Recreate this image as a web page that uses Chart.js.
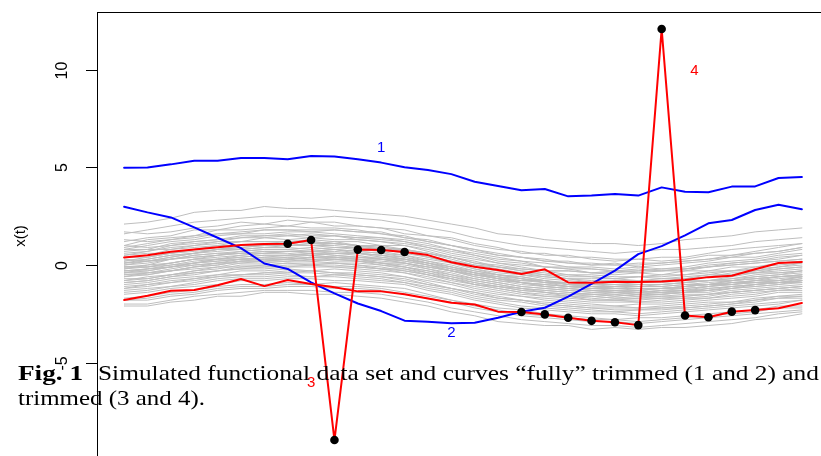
<!DOCTYPE html>
<html>
<head>
<meta charset="utf-8">
<script src="https://cdn.jsdelivr.net/npm/chart.js@4.4.1/dist/chart.umd.min.js"></script>
<style>
  html, body { margin: 0; padding: 0; background: #fff; overflow: hidden; }
  #wrap { position: relative; width: 821px; height: 456px; overflow: hidden; }
  canvas { position: absolute; left: 0; top: 0; }
</style>
</head>
<body>
<div id="wrap"><canvas id="chart" width="860" height="480"></canvas></div>
<script>
// time grid
const tValues = [0,1,2,3,4,5,6,7,8,9,10,11,12,13,14,15,16,17,18,19,20,21,22,23,24,25,26,27,28,29];

// outlying curves ("fully" trimmed, blue)
const curve1 = [4.99,5.0,5.16,5.35,5.35,5.49,5.49,5.42,5.59,5.56,5.42,5.25,5.01,4.87,4.66,4.27,4.05,3.83,3.90,3.52,3.56,3.64,3.56,3.98,3.76,3.73,4.02,4.03,4.46,4.51];
const curve2 = [2.99,2.70,2.44,1.93,1.40,0.87,0.08,-0.20,-0.89,-1.45,-1.97,-2.36,-2.85,-2.91,-2.99,-2.96,-2.70,-2.39,-2.19,-1.62,-0.97,-0.29,0.56,0.97,1.52,2.14,2.31,2.82,3.09,2.86];
// partially trimmed curves (red)
const curve3 = [0.39,0.50,0.68,0.80,0.91,1.03,1.08,1.09,1.28,-8.97,0.79,0.77,0.67,0.51,0.14,-0.09,-0.26,-0.46,-0.22,-0.89,-0.91,-0.86,-0.87,-0.85,-0.77,-0.62,-0.55,-0.22,0.10,0.16];
const curve4 = [-1.79,-1.57,-1.32,-1.28,-1.04,-0.72,-1.08,-0.77,-0.97,-1.14,-1.35,-1.35,-1.50,-1.71,-1.93,-2.02,-2.39,-2.41,-2.53,-2.70,-2.86,-2.93,-3.08,12.10,-2.59,-2.68,-2.39,-2.31,-2.22,-1.95];
// trimmed time points
const trimmed3 = [7,8,9,10,11,12];
const trimmed4 = [17,18,19,20,21,22,23,24,25,26,27];

// the bulk of the simulated sample (gray)
const g01 = [2.1,2.2,2.4,2.7,2.8,2.8,3.0,2.9,2.9,2.8,2.7,2.6,2.5,2.3,2.1,1.9,1.6,1.5,1.3,1.2,1.1,1.1,1.0,1.1,1.3,1.4,1.5,1.7,1.8,1.9];
const g02 = [1.6,1.8,2.0,2.2,2.3,2.4,2.5,2.5,2.4,2.5,2.4,2.3,2.1,1.9,1.7,1.4,1.2,1.0,0.9,0.8,0.7,0.6,0.7,0.8,0.8,0.9,1.0,1.2,1.3,1.4];
const g03 = [1.7,1.6,1.7,1.9,2.0,2.2,2.1,2.3,2.2,2.2,2.0,1.9,1.8,1.5,1.4,1.1,0.9,0.6,0.6,0.4,0.4,0.3,0.3,0.4,0.4,0.6,0.8,0.9,1.0,1.1];
const g04 = [1.2,1.4,1.5,1.8,1.8,2.0,2.1,2.0,2.2,2.0,2.0,1.9,1.6,1.5,1.3,1.0,0.8,0.7,0.5,0.5,0.3,0.2,0.3,0.2,0.3,0.5,0.5,0.7,0.9,1.1];
const g05 = [1.0,1.3,1.4,1.5,1.8,1.8,1.9,2.0,1.9,1.9,1.8,1.6,1.5,1.2,1.0,0.8,0.6,0.4,0.3,0.1,0.1,0.0,0.1,0.1,0.2,0.3,0.5,0.6,0.7,0.9];
const g06 = [1.3,1.2,1.3,1.4,1.6,1.6,1.8,1.8,1.7,1.8,1.7,1.7,1.4,1.3,1.0,0.8,0.5,0.4,0.2,0.2,0.0,0.1,-0.1,0.0,0.1,0.2,0.4,0.4,0.6,0.8];
const g07 = [0.8,1.0,1.2,1.3,1.5,1.6,1.6,1.7,1.7,1.6,1.5,1.4,1.3,1.1,0.8,0.6,0.4,0.2,0.1,-0.1,-0.1,-0.2,-0.1,-0.2,-0.1,0.1,0.2,0.3,0.5,0.6];
const g08 = [1.0,0.9,1.0,1.2,1.3,1.5,1.5,1.5,1.6,1.5,1.4,1.4,1.2,1.0,0.8,0.5,0.3,0.2,-0.1,-0.1,-0.2,-0.3,-0.3,-0.2,-0.2,0.0,0.1,0.2,0.4,0.5];
const g09 = [0.5,0.7,1.0,1.1,1.2,1.4,1.4,1.5,1.4,1.5,1.3,1.2,1.1,0.9,0.6,0.4,0.1,0.0,-0.1,-0.2,-0.4,-0.3,-0.4,-0.3,-0.3,-0.1,0.0,0.1,0.2,0.3];
const g10 = [0.7,0.8,0.8,1.0,1.2,1.2,1.4,1.3,1.4,1.3,1.3,1.2,1.0,0.8,0.5,0.3,0.1,-0.1,-0.3,-0.3,-0.4,-0.5,-0.4,-0.5,-0.3,-0.3,-0.1,-0.1,0.1,0.2];
const g11 = [0.4,0.5,0.8,0.9,1.0,1.2,1.2,1.2,1.3,1.2,1.2,1.0,1.0,0.7,0.4,0.2,-0.1,-0.2,-0.3,-0.5,-0.5,-0.6,-0.6,-0.5,-0.5,-0.3,-0.3,-0.1,0.0,0.1];
const g12 = [0.5,0.6,0.6,0.8,1.0,1.0,1.1,1.2,1.1,1.2,1.0,1.0,0.8,0.6,0.4,0.1,-0.1,-0.3,-0.5,-0.5,-0.6,-0.7,-0.6,-0.7,-0.6,-0.5,-0.3,-0.3,-0.1,0.0];
const g13 = [0.2,0.4,0.6,0.7,0.8,1.0,1.0,1.1,1.0,1.1,1.0,0.8,0.8,0.5,0.2,0.0,-0.2,-0.4,-0.5,-0.7,-0.7,-0.7,-0.8,-0.7,-0.7,-0.5,-0.5,-0.3,-0.2,-0.1];
const g14 = [0.3,0.2,0.4,0.6,0.8,0.8,0.9,1.0,1.0,0.9,0.9,0.8,0.6,0.4,0.2,-0.1,-0.3,-0.5,-0.6,-0.7,-0.9,-0.8,-0.9,-0.8,-0.8,-0.6,-0.5,-0.4,-0.3,-0.2];
const g15 = [0.0,0.2,0.4,0.6,0.7,0.8,0.9,0.9,0.8,0.9,0.8,0.7,0.5,0.3,0.1,-0.2,-0.4,-0.5,-0.7,-0.8,-0.9,-1.0,-0.9,-0.9,-0.8,-0.8,-0.6,-0.4,-0.4,-0.3];
const g16 = [0.1,0.2,0.3,0.4,0.5,0.7,0.8,0.8,0.7,0.8,0.7,0.6,0.4,0.2,-0.1,-0.3,-0.5,-0.6,-0.8,-1.0,-1.0,-1.1,-1.0,-1.0,-0.9,-0.8,-0.8,-0.6,-0.5,-0.3];
const g17 = [-0.2,0.0,0.1,0.3,0.5,0.6,0.6,0.7,0.7,0.6,0.6,0.5,0.3,0.1,-0.1,-0.4,-0.6,-0.8,-0.8,-1.0,-1.1,-1.2,-1.1,-1.1,-1.0,-1.0,-0.8,-0.7,-0.6,-0.5];
const g18 = [-0.1,-0.1,0.1,0.3,0.3,0.5,0.6,0.6,0.5,0.6,0.5,0.3,0.3,0.0,-0.3,-0.5,-0.6,-0.9,-1.0,-1.1,-1.2,-1.2,-1.3,-1.2,-1.1,-1.0,-1.0,-0.8,-0.6,-0.6];
const g19 = [-0.4,-0.2,-0.1,0.1,0.3,0.3,0.4,0.5,0.5,0.4,0.4,0.3,0.1,-0.1,-0.3,-0.6,-0.8,-0.9,-1.1,-1.2,-1.3,-1.3,-1.4,-1.3,-1.2,-1.1,-1.0,-0.9,-0.8,-0.6];
const g20 = [-0.3,-0.3,-0.1,0.0,0.1,0.3,0.3,0.3,0.4,0.4,0.3,0.1,0.1,-0.2,-0.5,-0.7,-0.9,-1.1,-1.2,-1.3,-1.4,-1.5,-1.4,-1.4,-1.4,-1.2,-1.1,-1.0,-0.9,-0.9];
const g21 = [-0.6,-0.4,-0.3,-0.1,0.1,0.1,0.2,0.3,0.2,0.3,0.2,0.1,-0.1,-0.3,-0.5,-0.8,-1.0,-1.2,-1.3,-1.4,-1.5,-1.5,-1.6,-1.5,-1.4,-1.3,-1.2,-1.1,-1.0,-0.8];
const g22 = [-0.5,-0.5,-0.3,-0.2,-0.1,0.1,0.1,0.2,0.2,0.1,0.1,0.0,-0.2,-0.4,-0.7,-0.9,-1.1,-1.2,-1.4,-1.5,-1.6,-1.7,-1.6,-1.6,-1.5,-1.5,-1.3,-1.2,-1.1,-1.0];
const g23 = [-0.8,-0.6,-0.5,-0.3,-0.1,-0.1,0.0,0.1,0.1,0.1,0.0,-0.2,-0.2,-0.5,-0.7,-1.0,-1.2,-1.4,-1.5,-1.6,-1.7,-1.8,-1.7,-1.7,-1.6,-1.5,-1.4,-1.3,-1.2,-1.1];
const g24 = [-0.7,-0.7,-0.5,-0.4,-0.3,-0.1,-0.1,-0.1,0.0,-0.1,-0.1,-0.2,-0.4,-0.6,-0.9,-1.1,-1.3,-1.5,-1.6,-1.7,-1.8,-1.8,-1.9,-1.8,-1.7,-1.7,-1.5,-1.4,-1.3,-1.2];
const g25 = [-1.0,-0.9,-0.7,-0.6,-0.5,-0.3,-0.3,-0.2,-0.3,-0.2,-0.3,-0.4,-0.6,-0.8,-1.0,-1.3,-1.5,-1.6,-1.8,-1.9,-2.0,-2.1,-2.0,-2.0,-1.9,-1.8,-1.7,-1.6,-1.4,-1.4];
const g26 = [-1.2,-1.0,-0.8,-0.7,-0.5,-0.5,-0.4,-0.3,-0.3,-0.4,-0.4,-0.5,-0.6,-0.9,-1.2,-1.4,-1.6,-1.8,-1.9,-2.0,-2.1,-2.1,-2.2,-2.1,-2.0,-1.9,-1.9,-1.7,-1.6,-1.5];
const g27 = [-1.3,-1.2,-1.1,-0.9,-0.7,-0.6,-0.6,-0.5,-0.6,-0.5,-0.6,-0.7,-0.9,-1.1,-1.3,-1.6,-1.8,-1.9,-2.1,-2.2,-2.3,-2.4,-2.3,-2.3,-2.2,-2.1,-2.0,-1.9,-1.7,-1.7];
const g28 = [-1.5,-1.4,-1.2,-1.1,-1.0,-0.8,-0.8,-0.7,-0.7,-0.8,-0.8,-0.9,-1.0,-1.3,-1.5,-1.8,-2.0,-2.2,-2.3,-2.4,-2.5,-2.5,-2.6,-2.5,-2.4,-2.3,-2.2,-2.1,-2.0,-1.8];
const g29 = [-1.7,-1.6,-1.4,-1.3,-1.1,-1.0,-1.0,-0.9,-1.0,-0.9,-1.0,-1.1,-1.2,-1.5,-1.8,-2.0,-2.2,-2.3,-2.5,-2.6,-2.7,-2.8,-2.7,-2.7,-2.6,-2.5,-2.4,-2.3,-2.1,-2.1];
const g30 = [-1.8,-1.8,-1.6,-1.5,-1.3,-1.2,-1.2,-1.1,-1.1,-1.2,-1.2,-1.3,-1.5,-1.7,-1.9,-2.2,-2.4,-2.6,-2.7,-2.8,-2.9,-2.9,-3.0,-2.9,-2.8,-2.7,-2.6,-2.5,-2.4,-2.3];
const g31 = [-2.0,-2.0,-1.8,-1.6,-1.5,-1.4,-1.3,-1.3,-1.3,-1.4,-1.4,-1.5,-1.7,-1.9,-2.2,-2.4,-2.6,-2.8,-2.9,-3.0,-3.1,-3.1,-3.2,-3.1,-3.0,-2.9,-2.8,-2.7,-2.5,-2.4];
const g32 = [-2.1,-2.1,-1.9,-1.8,-1.6,-1.6,-1.4,-1.4,-1.5,-1.5,-1.6,-1.7,-1.9,-2.1,-2.4,-2.6,-2.9,-3.0,-3.1,-3.1,-3.3,-3.2,-3.3,-3.2,-3.2,-3.1,-3.0,-2.8,-2.7,-2.5];
const g33 = [0.2,0.3,0.5,0.6,0.8,0.9,1.0,1.0,1.1,1.1,1.0,0.9,0.8,0.6,0.4,0.1,0.0,-0.2,-0.3,-0.3,-0.4,-0.4,-0.3,-0.3,-0.2,-0.1,0.0,0.1,0.2,0.3];
const g34 = [0.6,0.7,0.9,1.0,1.1,1.2,1.2,1.2,1.2,1.1,1.0,0.8,0.7,0.4,0.1,-0.2,-0.5,-0.7,-0.8,-1.0,-1.1,-1.2,-1.2,-1.2,-1.1,-1.0,-0.9,-0.9,-0.8,-0.7];
const g35 = [-0.2,-0.1,0.0,0.2,0.3,0.4,0.5,0.5,0.6,0.5,0.4,0.4,0.2,0.0,-0.2,-0.4,-0.6,-0.7,-0.9,-0.9,-1.0,-1.0,-1.1,-1.0,-0.9,-0.8,-0.7,-0.5,-0.4,-0.3];
const g36 = [0.1,0.2,0.3,0.5,0.6,0.6,0.7,0.7,0.7,0.7,0.6,0.5,0.3,0.1,-0.2,-0.5,-0.7,-0.9,-1.1,-1.2,-1.3,-1.4,-1.4,-1.3,-1.3,-1.2,-1.1,-1.0,-0.9,-0.8];
const g37 = [-0.6,-0.5,-0.3,-0.1,0.0,0.2,0.2,0.3,0.4,0.4,0.3,0.2,0.1,-0.1,-0.3,-0.5,-0.7,-0.9,-1.0,-1.1,-1.2,-1.2,-1.2,-1.2,-1.1,-1.0,-0.8,-0.7,-0.6,-0.5];
const g38 = [-0.3,-0.2,-0.1,0.1,0.2,0.3,0.3,0.4,0.3,0.3,0.2,0.1,-0.1,-0.4,-0.6,-0.9,-1.1,-1.3,-1.4,-1.6,-1.6,-1.7,-1.7,-1.6,-1.6,-1.5,-1.4,-1.3,-1.2,-1.1];
const g39 = [-0.9,-0.8,-0.6,-0.4,-0.3,-0.2,-0.1,0.0,0.0,0.0,-0.1,-0.2,-0.3,-0.5,-0.7,-1.0,-1.1,-1.3,-1.4,-1.5,-1.5,-1.6,-1.5,-1.5,-1.4,-1.3,-1.2,-1.0,-0.9,-0.8];
const g40 = [-1.1,-1.0,-0.9,-0.8,-0.6,-0.5,-0.5,-0.4,-0.4,-0.5,-0.5,-0.6,-0.8,-1.0,-1.2,-1.4,-1.7,-1.8,-2.0,-2.1,-2.2,-2.3,-2.3,-2.2,-2.2,-2.1,-2.0,-1.8,-1.7,-1.6];
const g41 = [0.9,1.1,1.3,1.5,1.6,1.7,1.8,1.8,1.8,1.8,1.7,1.6,1.4,1.2,1.0,0.7,0.5,0.4,0.2,0.1,0.0,0.0,0.0,0.1,0.2,0.3,0.4,0.6,0.7,0.9];
const g42 = [0.8,0.8,1.1,1.2,1.3,1.4,1.5,1.6,1.5,1.5,1.4,1.3,1.2,0.9,0.7,0.5,0.2,0.1,-0.1,-0.2,-0.2,-0.3,-0.2,-0.3,-0.2,-0.1,0.1,0.2,0.3,0.5];
const g43 = [0.4,0.4,0.6,0.8,0.9,1.0,1.1,1.1,1.2,1.1,1.0,0.9,0.8,0.6,0.3,0.0,-0.1,-0.3,-0.4,-0.6,-0.6,-0.7,-0.6,-0.6,-0.5,-0.4,-0.3,-0.2,-0.1,0.1];
const g44 = [0.1,0.3,0.5,0.6,0.8,0.9,1.0,1.0,1.0,1.0,0.9,0.8,0.7,0.4,0.2,-0.1,-0.3,-0.4,-0.6,-0.7,-0.8,-0.8,-0.8,-0.8,-0.7,-0.6,-0.4,-0.4,-0.2,-0.1];
const g45 = [0.0,0.1,0.3,0.5,0.6,0.7,0.8,0.8,0.9,0.8,0.7,0.6,0.5,0.2,0.0,-0.3,-0.5,-0.6,-0.8,-0.9,-1.0,-1.0,-1.0,-1.0,-0.9,-0.8,-0.7,-0.6,-0.5,-0.4];
const g46 = [-0.1,0.0,0.3,0.4,0.5,0.6,0.7,0.7,0.7,0.8,0.6,0.5,0.4,0.1,-0.1,-0.4,-0.5,-0.7,-0.9,-1.0,-1.1,-1.1,-1.1,-1.1,-1.0,-0.9,-0.8,-0.7,-0.6,-0.5];
const g47 = [-0.1,-0.1,0.1,0.3,0.4,0.5,0.6,0.7,0.6,0.6,0.6,0.4,0.3,0.1,-0.2,-0.4,-0.7,-0.8,-0.9,-1.1,-1.1,-1.2,-1.2,-1.2,-1.1,-1.0,-0.9,-0.8,-0.7,-0.6];
const g48 = [-0.3,-0.2,0.0,0.1,0.3,0.4,0.5,0.5,0.6,0.5,0.4,0.3,0.2,0.0,-0.3,-0.5,-0.7,-0.9,-1.0,-1.1,-1.2,-1.3,-1.3,-1.2,-1.2,-1.1,-0.9,-0.8,-0.8,-0.6];
const g49 = [-0.4,-0.3,-0.1,0.1,0.2,0.3,0.4,0.4,0.5,0.4,0.3,0.3,0.1,-0.1,-0.3,-0.6,-0.8,-1.0,-1.1,-1.2,-1.3,-1.4,-1.3,-1.4,-1.3,-1.1,-1.0,-0.9,-0.9,-0.7];
const g50 = [-0.4,-0.4,-0.2,0.0,0.1,0.2,0.3,0.3,0.4,0.3,0.3,0.1,0.0,-0.2,-0.4,-0.7,-0.9,-1.1,-1.2,-1.3,-1.4,-1.4,-1.5,-1.4,-1.3,-1.3,-1.1,-1.0,-0.9,-0.8];
const g51 = [-0.5,-0.4,-0.3,-0.1,0.0,0.2,0.2,0.2,0.3,0.2,0.2,0.0,-0.1,-0.3,-0.6,-0.8,-1.0,-1.2,-1.3,-1.4,-1.5,-1.6,-1.5,-1.5,-1.4,-1.4,-1.2,-1.1,-1.0,-0.9];
const g52 = [-0.8,-0.7,-0.5,-0.3,-0.2,0.0,0.0,0.1,0.0,0.1,0.0,-0.1,-0.3,-0.5,-0.8,-1.0,-1.2,-1.4,-1.6,-1.6,-1.8,-1.8,-1.8,-1.7,-1.7,-1.6,-1.4,-1.3,-1.2,-1.1];
const g53 = [-0.9,-0.8,-0.6,-0.5,-0.3,-0.2,-0.2,-0.1,-0.1,-0.1,-0.2,-0.3,-0.4,-0.7,-0.9,-1.2,-1.4,-1.6,-1.7,-1.8,-1.9,-1.9,-1.9,-1.9,-1.8,-1.7,-1.6,-1.5,-1.3,-1.3];
const g54 = [-1.2,-1.1,-0.9,-0.7,-0.6,-0.5,-0.4,-0.4,-0.3,-0.4,-0.5,-0.6,-0.7,-1.0,-1.2,-1.5,-1.7,-1.8,-2.0,-2.1,-2.2,-2.2,-2.2,-2.2,-2.1,-2.0,-1.9,-1.8,-1.6,-1.6];
const g55 = [-1.4,-1.3,-1.1,-1.0,-0.8,-0.7,-0.7,-0.6,-0.6,-0.6,-0.7,-0.8,-0.9,-1.2,-1.4,-1.7,-1.9,-2.1,-2.2,-2.3,-2.4,-2.4,-2.5,-2.4,-2.3,-2.2,-2.1,-2.0,-1.9,-1.8];
const g56 = [-1.8,-1.7,-1.5,-1.4,-1.2,-1.1,-1.1,-1.0,-1.0,-1.1,-1.1,-1.2,-1.4,-1.6,-1.8,-2.1,-2.3,-2.5,-2.6,-2.7,-2.8,-2.8,-2.9,-2.8,-2.7,-2.6,-2.5,-2.4,-2.2,-2.2];
const grayCurves = [g01,g02,g03,g04,g05,g06,g07,g08,g09,g10,g11,g12,g13,g14,g15,g16,g17,g18,g19,g20,
                    g21,g22,g23,g24,g25,g26,g27,g28,g29,g30,g31,g32,g33,g34,g35,g36,g37,g38,g39,g40,
                    g41,g42,g43,g44,g45,g46,g47,g48,g49,g50,g51,g52,g53,g54,g55,g56];

const yTicks = [-5, 0, 5, 10];
const yLabel = 'x(t)';
// curve numbers written next to the curves (data coordinates)
const curveLabels = ['1', '2', '3', '4'];
const curveLabelT = [11, 14, 8, 24.4];
const curveLabelY = [6.0, -3.5, -6.05, 9.95];
const curveLabelColor = ['#0000FF', '#0000FF', '#FF0000', '#FF0000'];

const captionBold = 'Fig. 1';
const captionLine1 = 'Simulated functional data set and curves \u201cfully\u201d trimmed (1 and 2) and';
const captionLine2 = 'trimmed (3 and 4).';

const toPoints = ys => tValues.map((t, i) => ({ x: t, y: ys[i] }));

const GRAY = '#BEBEBE', BLUE = '#0000FF', RED = '#FF0000';

const datasets = [];
// trimmed points (black dots) on top
const dots = trimmed3.map(i => ({ x: tValues[i], y: curve3[i] }))
  .concat(trimmed4.map(i => ({ x: tValues[i], y: curve4[i] })));
datasets.push({ data: dots, showLine: false, pointRadius: 4.3, pointBackgroundColor: '#000', pointBorderColor: '#000', pointBorderWidth: 0, order: 0 });
[curve3, curve4].forEach(c => datasets.push({ data: toPoints(c), borderColor: RED, borderWidth: 2, pointRadius: 0, order: 1 }));
[curve1, curve2].forEach(c => datasets.push({ data: toPoints(c), borderColor: BLUE, borderWidth: 2, pointRadius: 0, order: 2 }));
grayCurves.forEach(c => datasets.push({ data: toPoints(c), borderColor: GRAY, borderWidth: 1, pointRadius: 0, order: 3 }));

// draw a string stretched horizontally so it spans x0..x1
function fitText(ctx, text, x0, x1, baseline) {
  const w = ctx.measureText(text).width;
  ctx.save();
  ctx.translate(x0, baseline);
  ctx.scale((x1 - x0) / w, 1);
  ctx.fillText(text, 0, 0);
  ctx.restore();
}

const rPlot = {
  id: 'rPlot',
  afterDatasetsDraw(chart) {
    const { ctx, scales: { x, y } } = chart;
    ctx.save();
    ctx.font = '15px "Liberation Sans", Arial, sans-serif';
    ctx.textAlign = 'center';
    ctx.textBaseline = 'middle';
    curveLabels.forEach((txt, i) => {
      ctx.fillStyle = curveLabelColor[i];
      ctx.fillText(txt, x.getPixelForValue(curveLabelT[i]), y.getPixelForValue(curveLabelY[i]));
    });
    ctx.restore();
  },
  afterDraw(chart) {
    const { ctx, chartArea: a, scales: { y } } = chart;
    ctx.save();
    // box + y axis
    ctx.strokeStyle = '#000';
    ctx.lineWidth = 1;
    ctx.strokeRect(Math.round(a.left) + 0.5, Math.round(a.top) + 0.5, Math.round(a.right - a.left), Math.round(a.bottom - a.top));
    ctx.fillStyle = '#000';
    ctx.font = '16px "Liberation Sans", Arial, sans-serif';
    ctx.textAlign = 'center';
    ctx.textBaseline = 'middle';
    yTicks.forEach(v => {
      const py = Math.round(y.getPixelForValue(v)) + 0.5;
      ctx.beginPath();
      ctx.moveTo(a.left - 11, py);
      ctx.lineTo(a.left, py);
      ctx.stroke();
      ctx.save();
      ctx.translate(a.left - 34, py);
      ctx.rotate(-Math.PI / 2);
      ctx.fillText(String(v), 0, 0);
      ctx.restore();
    });
    ctx.save();
    ctx.font = '15px "Liberation Sans", Arial, sans-serif';
    ctx.translate(21, 236);
    ctx.rotate(-Math.PI / 2);
    ctx.fillText(yLabel, 0, 0);
    ctx.restore();

    // caption laid over the figure
    ctx.textAlign = 'left';
    ctx.textBaseline = 'alphabetic';
    ctx.font = 'bold 22px "Liberation Serif", "Times New Roman", serif';
    fitText(ctx, captionBold, 18, 83, 380);
    ctx.font = '22px "Liberation Serif", "Times New Roman", serif';
    fitText(ctx, captionLine1, 98, 819, 380);
    fitText(ctx, captionLine2, 18, 205, 405);
    ctx.restore();
  }
};

new Chart(document.getElementById('chart'), {
  type: 'line',
  data: { datasets },
  options: {
    responsive: false,
    animation: false,
    devicePixelRatio: 1,
    layout: { padding: { left: 97, top: 12, right: 31, bottom: 23 } },
    elements: { line: { tension: 0, borderCapStyle: 'round', borderJoinStyle: 'round' } },
    plugins: { legend: { display: false }, tooltip: { enabled: false } },
    scales: {
      x: { type: 'linear', display: false, min: -1.16, max: 30.16 },
      y: { type: 'linear', display: false, min: -9.84, max: 12.97 }
    }
  },
  plugins: [rPlot]
});
</script>
</body>
</html>
